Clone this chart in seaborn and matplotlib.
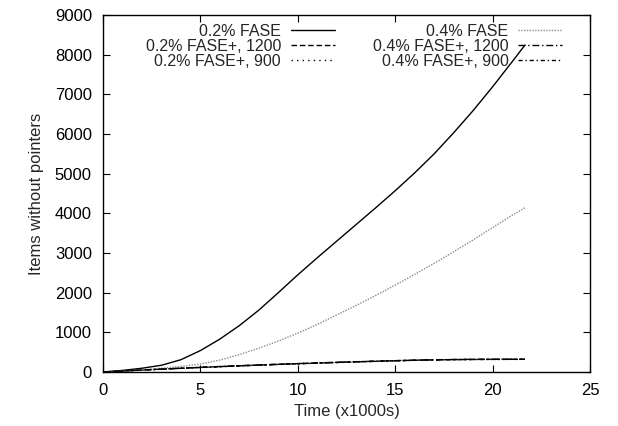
import numpy as np
import pandas as pd
import matplotlib
matplotlib.use("Agg")
import matplotlib.pyplot as plt
import seaborn as sns

# time axis, x1000 s
time_k = [0, 1, 2, 3, 4, 5, 6, 7, 8, 9, 10, 11, 12, 13, 14, 15, 16, 17, 18, 19, 20, 21, 21.66]

fase_02 = [0, 40, 95, 170, 310, 540, 830, 1170, 1560, 2000, 2450, 2880, 3300, 3720,
           4140, 4570, 5020, 5500, 6030, 6590, 7190, 7820, 8240]
fase_04 = [0, 25, 55, 95, 140, 200, 300, 440, 600, 780, 980, 1200, 1440, 1680,
           1930, 2190, 2460, 2740, 3030, 3330, 3640, 3950, 4140]
fasep_02_1200 = [0, 25, 50, 72, 94, 116, 136, 156, 175, 193, 210, 226, 242, 257,
                 271, 284, 297, 306, 313, 317, 319, 320, 320]
fasep_02_900 = [0, 24, 48, 70, 92, 113, 133, 153, 172, 190, 207, 223, 239, 254,
                268, 281, 294, 304, 311, 315, 318, 319, 320]
fasep_04_1200 = [0, 26, 51, 74, 96, 118, 138, 158, 177, 195, 212, 228, 244, 259,
                 273, 286, 299, 308, 315, 319, 321, 322, 322]
fasep_04_900 = [0, 25, 49, 71, 93, 115, 135, 155, 174, 192, 209, 225, 241, 256,
                270, 283, 296, 305, 312, 316, 318, 319, 319]

series_names = ["0.2% FASE", "0.2% FASE+, 1200", "0.2% FASE+, 900",
                "0.4% FASE", "0.4% FASE+, 1200", "0.4% FASE+, 900"]
series_values = [fase_02, fasep_02_1200, fasep_02_900,
                 fase_04, fasep_04_1200, fasep_04_900]

x_ticks = [0, 5, 10, 15, 20, 25]
y_ticks = [0, 1000, 2000, 3000, 4000, 5000, 6000, 7000, 8000, 9000]

# long form table for seaborn
frames = []
for name, vals in zip(series_names, series_values):
    frames.append(pd.DataFrame({"time": time_k, "items": vals, "series": name}))
df = pd.concat(frames, ignore_index=True)

sns.set_style("ticks")
plt.rcParams["font.family"] = ["Liberation Sans", "DejaVu Sans"]

palette = {
    "0.2% FASE": "black",
    "0.2% FASE+, 1200": "black",
    "0.2% FASE+, 900": "black",
    "0.4% FASE": "#8c8c8c",
    "0.4% FASE+, 1200": "black",
    "0.4% FASE+, 900": "black",
}
dashes = {
    "0.2% FASE": "",
    "0.2% FASE+, 1200": (4, 2),
    "0.2% FASE+, 900": (1, 3),
    "0.4% FASE": (1, 1),
    "0.4% FASE+, 1200": (5, 2, 1, 2),
    "0.4% FASE+, 900": (3, 2, 1, 2),
}

fig = plt.figure(figsize=(6.18, 4.26), dpi=100)
ax = fig.add_axes([103 / 618, 54 / 426, 487 / 618, 357 / 426])

sns.lineplot(data=df, x="time", y="items", hue="series", style="series",
             hue_order=series_names, style_order=series_names,
             palette=palette, dashes=dashes, linewidth=1.0,
             legend=False, ax=ax)

ax.set_xlim(0, 25)
ax.set_ylim(0, 9000)
ax.set_xticks(x_ticks)
ax.set_yticks(y_ticks)
ax.tick_params(direction="in", length=5, width=0.8, top=True, right=True,
               labelsize=12, colors="black", pad=8)
for sp in ax.spines.values():
    sp.set_visible(True)
    sp.set_linewidth(1.0)
    sp.set_color("black")

ax.set_xlabel("Time (x1000s)", fontsize=12)
ax.set_ylabel("Items without pointers", fontsize=12)
ax.xaxis.labelpad = 4
ax.yaxis.labelpad = 8

handles = ax.get_lines()[:6]
ax.legend(handles, series_names, ncol=2, frameon=False, markerfirst=False,
          loc="upper right", bbox_to_anchor=(0.9425, 0.975),
          borderpad=0, borderaxespad=0, fontsize=11.5,
          handlelength=2.75, handletextpad=0.6, columnspacing=2.4,
          labelspacing=0.0)

fig.savefig("out.png", dpi=100)
